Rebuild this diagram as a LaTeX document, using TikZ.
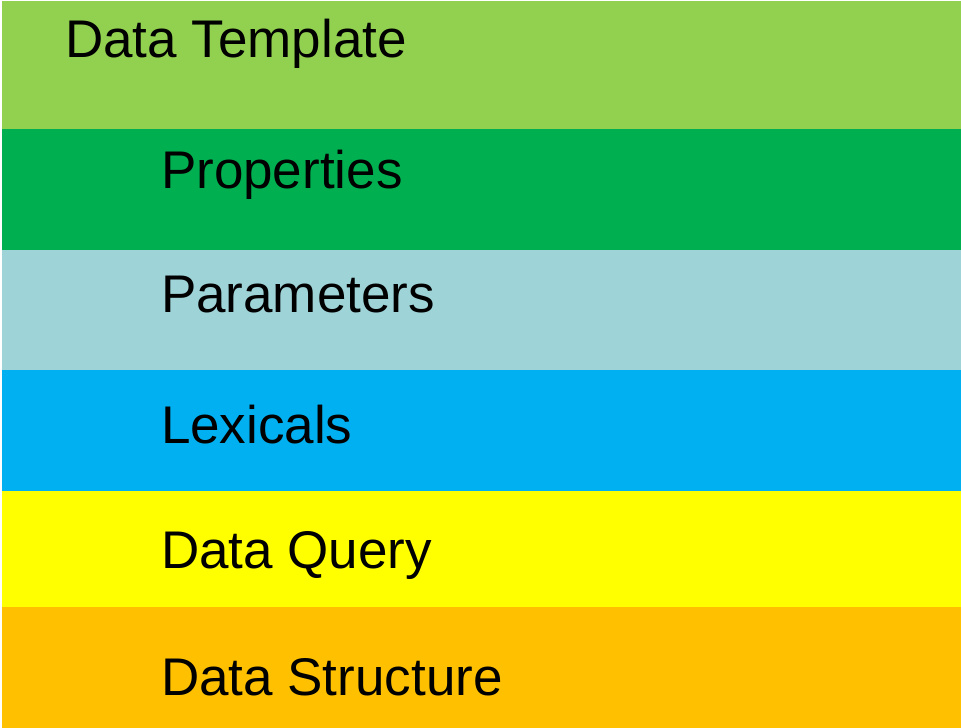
\documentclass[tikz,border=0pt]{standalone}
\usepackage{fontspec}
\setmainfont{Liberation Sans}
\definecolor{bandA}{RGB}{146,208,80}
\definecolor{bandB}{RGB}{0,176,80}
\definecolor{bandC}{RGB}{158,211,216}
\definecolor{bandD}{RGB}{0,176,240}
\definecolor{bandE}{RGB}{255,255,0}
\definecolor{bandF}{RGB}{255,192,0}
\begin{document}
\begin{tikzpicture}[x=1pt,y=-1pt,
  lbl/.style={anchor=base west,inner sep=0pt,outer sep=0pt,font=\fontsize{53}{60}\selectfont,text=black}]
\useasboundingbox (0,0) rectangle (961,728);
\fill[white] (0,0) rectangle (961,728);
\fill[bandA] (2,1) rectangle (961,129);
\fill[bandB] (2,129) rectangle (961,250);
\fill[bandC] (2,250) rectangle (961,370);
\fill[bandD] (2,370) rectangle (961,491);
\fill[bandE] (2,491) rectangle (961,607);
\fill[bandF] (2,607) rectangle (961,728);
\node[lbl] (t1) at (65,57.7) {Data Template};
\node[lbl] (t2) at (161,188.5) {Properties};
\node[lbl] (t3) at (161,312.7) {Parameters};
\node[lbl] (t4) at (161,443) {Lexicals};
\node[lbl] (t5) at (161,568) {Data Query};
\node[lbl] (t6) at (161,695) {Data Structure};
\end{tikzpicture}
\end{document}
